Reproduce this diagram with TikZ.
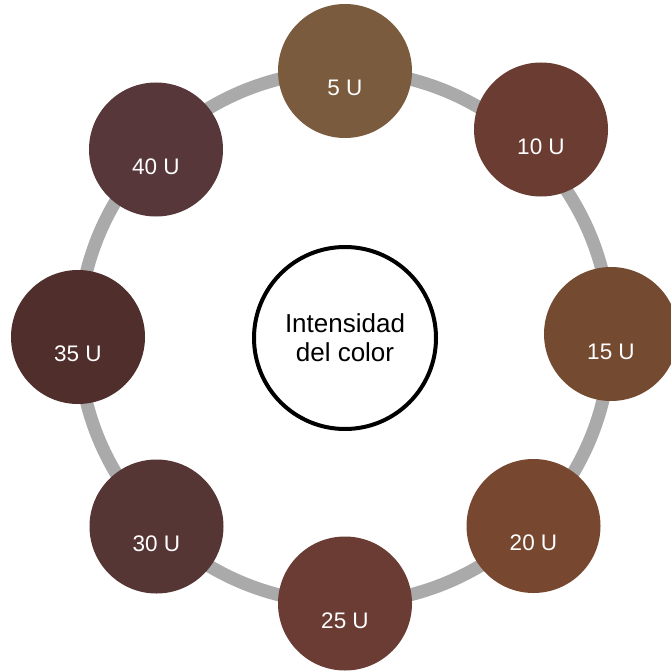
\documentclass[tikz,border=0pt]{standalone}
\usepackage{fontspec}
\setmainfont{Liberation Sans}
\definecolor{ringgray}{HTML}{AAAAAA}
\definecolor{cA}{HTML}{7A5B3D}
\definecolor{cB}{HTML}{6A3C32}
\definecolor{cC}{HTML}{744A31}
\definecolor{cD}{HTML}{77482F}
\definecolor{cE}{HTML}{6A3C33}
\definecolor{cF}{HTML}{563535}
\definecolor{cG}{HTML}{4F2E2B}
\definecolor{cH}{HTML}{573739}
\begin{document}
\begin{tikzpicture}[x=1pt,y=-1pt,
  dot/.style={circle, minimum size=134pt, inner sep=0pt, fill=#1},
  lab/.style={text=white, inner sep=0pt, font=\fontsize{22.5}{27}\selectfont},
  ring/.style={draw=ringgray, line width=13pt},
  hub/.style={circle, draw=black, line width=4pt, fill=white, minimum size=182pt, inner sep=0pt, align=center, font=\fontsize{26}{29}\selectfont}]
\useasboundingbox (0,0) rectangle (670,671);
\coordinate (o) at (344.5,337);
\draw[ring] (o) circle[radius=266pt];
\node[hub] (c) at (345,338) {Intensidad\\del color};
\node[dot=cA] (n5) at (345,71) {};
\node[dot=cB] (n10) at (541,129.5) {};
\node[dot=cC] (n15) at (611,334) {};
\node[dot=cD] (n20) at (533.5,526) {};
\node[dot=cE] (n25) at (345,603.5) {};
\node[dot=cF] (n30) at (156.5,526.5) {};
\node[dot=cG] (n35) at (78,337) {};
\node[dot=cH] (n40) at (156,149.5) {};
\node[lab] (l5) at ([yshift=-17pt]n5.center) {5 U};
\node[lab] (l10) at ([yshift=-17pt]n10.center) {10 U};
\node[lab] (l15) at ([yshift=-18pt]n15.center) {15 U};
\node[lab] (l20) at ([yshift=-17pt]n20.center) {20 U};
\node[lab] (l25) at ([yshift=-17pt]n25.center) {25 U};
\node[lab] (l30) at ([yshift=-17pt]n30.center) {30 U};
\node[lab] (l35) at ([yshift=-17pt]n35.center) {35 U};
\node[lab] (l40) at ([yshift=-17pt]n40.center) {40 U};
\end{tikzpicture}
\end{document}
